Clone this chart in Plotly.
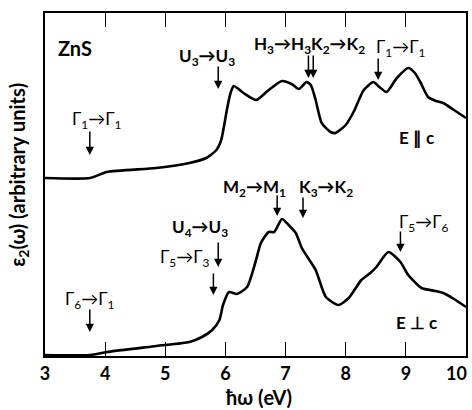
import plotly.graph_objects as go

# Photon energy (eV) and eps2 (arbitrary units) for the two polarizations
e_par = [3.0, 3.75, 4.03, 4.85, 5.4, 5.68, 5.85, 5.93, 5.98, 6.03, 6.09, 6.14, 6.3, 6.51, 6.7,
         6.94, 7.1, 7.22, 7.35, 7.42, 7.5, 7.6, 7.75, 7.83, 8.0, 8.13, 8.3, 8.46, 8.56, 8.68,
         8.85, 9.04, 9.15, 9.24, 9.37, 9.5, 9.62, 9.8, 10.0]
eps_par = [178, 178, 184, 188, 193, 198, 206, 216, 231, 248, 264, 270, 263, 256, 265,
           275, 272, 267, 274, 271, 256, 233, 224, 223, 231, 244, 266, 274, 269, 264,
           278, 288, 283, 274, 259, 255, 253, 246, 238]

e_perp = [3.0, 3.75, 4.03, 4.85, 5.4, 5.61, 5.78, 5.9, 5.96, 6.06, 6.19, 6.36, 6.5, 6.59, 6.72,
          6.81, 6.94, 7.05, 7.17, 7.27, 7.5, 7.67, 7.88, 8.05, 8.26, 8.41, 8.51, 8.71, 8.91,
          9.04, 9.26, 9.49, 9.62, 9.8, 10.0]
eps_perp = [1, 1, 4, 10, 14, 19, 26, 36, 51, 64, 62, 69, 94, 113, 124,
            124, 137, 131, 123, 108, 86, 59, 51, 58, 76, 83, 89, 104, 94,
            81, 68, 65, 63, 57, 49]

x_ticks = [3, 4, 5, 6, 7, 8, 9, 10]

FONT = "Lato"

fig = go.Figure()
for xs, ys in [(e_par, eps_par), (e_perp, eps_perp)]:
    fig.add_trace(go.Scatter(x=xs, y=ys, mode="lines",
                             line=dict(color="black", width=2.6, shape="spline", smoothing=0.6),
                             showlegend=False, hoverinfo="skip"))

ann = []
def txt(x, y, s, size=17):
    ann.append(dict(x=x, y=y, xref="x", yref="y", text=s, showarrow=False,
                    font=dict(family=FONT, size=size, color="black"), xanchor="center", yanchor="middle"))

def arr(x, y, length=25):
    ann.append(dict(x=x, y=y, xref="x", yref="y", text="", showarrow=True, ax=0, ay=-length,
                    arrowhead=2, arrowsize=1.1, arrowwidth=1.5, arrowcolor="black"))

G = "Γ"
txt(3.50, 308, "<b>ZnS</b>", 20)
txt(3.86, 236, G + "<sub>1</sub>→" + G + "<sub>1</sub>")
arr(3.745, 201)
txt(5.70, 299, "<b>U<sub>3</sub>→U<sub>3</sub></b>")
arr(5.88, 267, 24)
txt(7.39, 311, "<b>H<sub>3</sub>→H<sub>3</sub>K<sub>2</sub>→K<sub>2</sub></b>")
arr(7.38, 278, 24)
arr(7.46, 278, 24)
txt(8.92, 308, G + "<sub>1</sub>→" + G + "<sub>1</sub>")
arr(8.54, 276, 23)
txt(9.17, 219, "<b>E ∥ c</b>")

txt(6.49, 168, "<b>M<sub>2</sub>→M<sub>1</sub></b>")
arr(6.86, 140, 22)
txt(7.68, 168, "<b>K<sub>3</sub>→K<sub>2</sub></b>")
arr(7.29, 138, 22)
txt(5.58, 128, "<b>U<sub>4</sub>→U<sub>3</sub></b>")
arr(5.88, 89, 26)
txt(5.33, 98, G + "<sub>5</sub>→" + G + "<sub>3</sub>")
arr(5.80, 61, 23)
txt(3.745, 56, G + "<sub>6</sub>→" + G + "<sub>1</sub>")
arr(3.745, 24, 24)
txt(9.30, 133, G + "<sub>5</sub>→" + G + "<sub>6</sub>")
arr(8.91, 104, 22)
txt(9.17, 34, "<b>E ⊥ c</b>")

ann.append(dict(x=0.506, y=-0.12, xref="paper", yref="paper", text="<b>ħω (eV)</b>", showarrow=False,
                font=dict(family=FONT, size=20, color="black"), xanchor="center", yanchor="middle"))
ann.append(dict(x=-0.062, y=0.528, xref="paper", yref="paper", text="<b>ε<sub>2</sub>(ω) (arbitrary units)</b>",
                showarrow=False, textangle=-90,
                font=dict(family=FONT, size=20, color="black"), xanchor="center", yanchor="middle"))
# last tick label, kept inside the right edge of the page
ann.append(dict(x=1.0, y=-0.05, xref="paper", yref="paper", text="<b>10</b>", showarrow=False,
                font=dict(family=FONT, size=18, color="black"), xanchor="right", yanchor="middle", xshift=3))

fig.update_layout(
    width=472, height=410,
    margin=dict(l=45, r=4, t=13, b=54),
    plot_bgcolor="white", paper_bgcolor="white",
    annotations=ann,
    xaxis=dict(range=[3, 10], tickvals=x_ticks[:-1], ticktext=["<b>%d</b>" % t for t in x_ticks[:-1]],
               ticks="inside", ticklen=14, tickwidth=1.3, tickcolor="black",
               showline=True, linecolor="black", linewidth=1.8, mirror="ticks",
               showgrid=False, zeroline=False,
               tickfont=dict(family=FONT, size=18, color="black")),
    yaxis=dict(range=[0, 343], showticklabels=False, ticks="",
               showline=True, linecolor="black", linewidth=1.8, mirror=True,
               showgrid=False, zeroline=False),
)

fig.write_html("out.html", config={"displayModeBar": False},
               post_script="document.body.style.margin='0px';")
